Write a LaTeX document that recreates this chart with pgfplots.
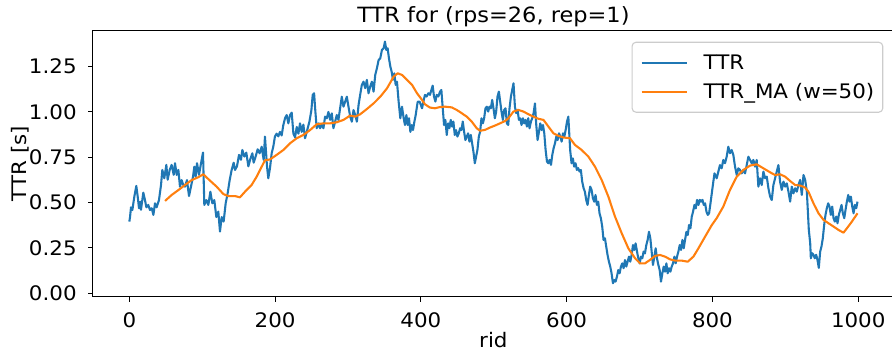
\documentclass[border=0pt]{standalone}
\usepackage{fontspec}
\setmainfont[FakeStretch=1.07]{DejaVu Sans}
\usepackage{pgfplots}
\pgfplotsset{compat=1.18}
\usepackage{pgfplotstable}
\definecolor{tabblue}{HTML}{1F77B4}
\definecolor{taborange}{HTML}{FF7F0E}

\pgfplotstableread{
x y
0 0.395
1 0.42
2.3 0.474
4.2 0.459
6.9 0.533
9.6 0.592
11.5 0.533
13.3 0.469
15.1 0.505
16 0.46
19.2 0.555
21.5 0.514
23.4 0.474
26 0.487
28.4 0.459
30.7 0.469
33 0.432
35.3 0.496
37.5 0.474
40.7 0.514
43.5 0.597
45.3 0.68
48 0.634
50.8 0.708
52.6 0.626
55.4 0.68
58.1 0.708
60.9 0.653
62.7 0.717
65 0.653
67.3 0.68
69.5 0.588
71.8 0.624
74.1 0.597
76.4 0.588
79.1 0.624
81.9 0.536
84.6 0.588
87.4 0.643
89.2 0.698
91 0.643
92.9 0.717
95.6 0.653
98.4 0.717
101.1 0.776
102.9 0.487
105.7 0.514
108.4 0.487
111.2 0.56
113.9 0.496
116.6 0.514
119.4 0.42
122.1 0.45
124.4 0.34
126.7 0.42
129.4 0.395
132.2 0.496
134.9 0.551
137.7 0.624
140.4 0.68
143.2 0.72
145 0.68
147.7 0.70
150.5 0.763
153.2 0.736
155.1 0.79
157.8 0.754
160.5 0.776
163.3 0.70
166 0.74
168.8 0.772
170.6 0.72
173.3 0.754
176.1 0.794
178.8 0.772
181.6 0.808
184.3 0.736
186.1 0.864
188.9 0.70
190.7 0.634
193 0.69
195.3 0.772
197.6 0.81
199.8 0.865
202.1 0.88
204.4 0.865
206.7 0.89
209 0.87
211.3 0.928
213.6 0.965
215.9 0.983
218.2 0.937
220.5 0.983
222.8 0.996
225.1 0.88
227.4 0.86
229.7 0.917
232 0.88
234.2 0.937
236.5 0.89
238.8 0.93
241.1 0.855
243.4 0.89
247.1 0.946
249.8 1.01
251.6 1.094
253.5 1.103
255.3 1.0
257.1 0.91
259.9 0.937
261.7 0.91
264 0.928
266.3 0.91
268.6 0.974
270.9 0.965
273.2 1.0
275.5 0.956
277.8 0.992
280 0.91
282.3 0.946
284.6 0.983
286.9 0.956
289.2 1.02
291.5 1.084
293.8 1.029
296.1 1.056
298.4 1.084
300.7 1.029
303 0.974
305.3 0.946
307.6 1.01
309.9 0.983
312.2 0.946
314.5 1.038
316.7 1.094
319 1.149
321.3 1.167
323.6 1.131
325.9 1.177
328.2 1.103
330.5 1.14
332.8 1.167
335.1 1.112
337.4 1.204
339.7 1.241
342 1.286
344.3 1.296
346.6 1.342
348.9 1.351
350.7 1.388
352.6 1.342
354.4 1.351
356.2 1.296
358.1 1.25
359.9 1.222
361.7 1.177
363.6 1.213
365.4 1.149
367.2 1.167
369.5 1.056
371.8 0.965
374.1 1.029
376.4 0.965
378.2 0.928
380.1 0.983
381.9 0.928
383.7 0.965
385.6 0.89
387.4 0.928
389.2 0.90
391.1 0.946
392.9 0.983
395.6 1.056
398.4 1.056
401.6 1.02
403.9 1.065
405.6 1.094
407.9 1.085
410.2 1.103
412.5 1.094
414.4 1.121
416.2 1.145
418 1.085
419.9 1.057
421.7 1.094
424 1.085
426.3 1.112
428.1 1.121
430 1.02
431.8 0.928
433.6 0.956
435.5 0.873
437.3 0.937
439.1 0.91
441 0.956
442.8 0.919
444.6 0.947
446.5 0.873
448.3 0.90
450.1 0.864
452 0.882
453.8 0.91
455.6 0.90
457.5 0.947
459.3 0.891
461.1 0.845
463 0.864
464.8 0.882
466.6 0.836
468.5 0.873
470.3 0.827
472.1 0.781
474 0.717
475.8 0.754
477.6 0.791
479.5 0.864
481.3 0.891
483.1 0.965
485 0.937
486.8 0.965
488.6 1.02
490.5 1.029
492.3 1.002
494.1 1.029
496 1.02
497.8 1.066
499.6 1.02
501.5 0.965
503.3 1.002
505.1 1.084
507 1.112
508.8 1.057
510.6 1.002
512.5 0.956
514.3 1.011
516.1 1.02
518 0.937
519.8 0.928
521.6 1.02
523.5 1.084
525.3 1.121
527.1 1.158
529 1.029
530.8 0.993
532.6 1.011
534.5 0.956
536.3 0.965
538.1 0.928
540 0.965
541.8 0.937
543.6 0.956
545.5 0.919
547.3 0.965
549.1 0.91
551 0.947
552.8 0.965
554.6 0.993
556.5 1.047
558.3 0.928
560.1 0.845
562 0.891
563.8 0.937
565.6 0.90
567.5 0.928
569.3 0.882
571.1 0.791
573 0.726
574.8 0.717
576.6 0.736
578.5 0.708
580.3 0.763
582.1 0.80
584 0.827
585.8 0.864
587.6 0.845
589.5 0.882
591.3 0.864
593.1 0.836
595 0.882
596.8 0.864
598.6 0.90
600.5 0.947
602.3 0.974
604.8 0.79
606.7 0.717
608.5 0.744
610.3 0.698
612.2 0.717
614 0.68
615.8 0.69
617.7 0.671
619.5 0.68
621.3 0.616
623.2 0.58
625 0.56
626.8 0.515
628.7 0.487
630.5 0.542
632.3 0.588
634.2 0.57
636 0.524
637.8 0.505
639.6 0.542
641.5 0.487
643.3 0.505
645.1 0.441
647 0.413
648.8 0.367
650.6 0.294
652.5 0.303
654.3 0.257
656.1 0.211
658 0.174
659.8 0.147
661.6 0.11
663.5 0.055
665.3 0.073
667.1 0.064
669 0.092
670.8 0.128
672.6 0.11
674.5 0.147
676.3 0.165
678.1 0.138
680 0.183
681.8 0.147
683.6 0.174
685.5 0.202
687.3 0.174
689.1 0.211
691 0.266
692.8 0.239
694.6 0.275
696.5 0.23
698.3 0.193
700.1 0.165
702 0.202
703.8 0.193
705.6 0.23
707.4 0.22
709.3 0.266
711.1 0.294
712.9 0.339
714.8 0.303
716.6 0.23
718.4 0.156
720.3 0.202
722.1 0.248
723.9 0.193
725.8 0.156
727.6 0.128
729.4 0.064
731.3 0.11
733.1 0.147
734.9 0.119
736.8 0.165
738.6 0.11
740.4 0.138
742.3 0.119
744.1 0.147
745.9 0.165
747.8 0.202
749.6 0.165
751.4 0.202
753.3 0.23
755.1 0.266
756.9 0.239
758.8 0.294
760.6 0.248
762.4 0.294
764.3 0.339
766.1 0.321
767.9 0.376
769.8 0.358
771.6 0.422
773.4 0.45
775.3 0.487
777.1 0.468
778.9 0.515
780.8 0.487
782.6 0.515
784.4 0.505
786.3 0.515
788.1 0.487
789.9 0.496
791.8 0.45
793.6 0.432
795.4 0.441
797.3 0.496
799.1 0.551
800.9 0.606
802.8 0.661
805.8 0.634
808.1 0.671
810.3 0.707
812.6 0.689
814.9 0.735
817.2 0.717
819.5 0.753
821.8 0.808
824.1 0.772
826.4 0.79
828.7 0.762
831 0.698
833.3 0.652
835.5 0.689
837.8 0.68
840.1 0.661
842.4 0.68
844.7 0.661
847 0.707
849.3 0.753
851.6 0.735
853.9 0.717
856.2 0.735
858.5 0.698
860.7 0.735
863 0.588
865.3 0.634
867.6 0.597
869.9 0.671
872.2 0.634
874.5 0.643
876.8 0.579
879.1 0.533
881.4 0.514
883.6 0.597
885.9 0.634
888.2 0.671
890.5 0.707
892.8 0.615
895.1 0.57
897.4 0.616
899.7 0.588
902 0.606
904.3 0.56
906.6 0.505
908.8 0.588
911.1 0.551
913.4 0.579
915.7 0.56
918 0.597
920.3 0.625
922.6 0.542
924.9 0.652
927.2 0.625
929.5 0.56
930.8 0.46
932.2 0.35
934.1 0.276
935 0.193
936.8 0.221
938.6 0.212
940.4 0.193
942.3 0.212
944.1 0.184
945.9 0.14
947.8 0.23
949.6 0.258
951.4 0.303
953.3 0.377
955.1 0.432
956.9 0.469
958.8 0.496
960.6 0.478
962.4 0.432
964.3 0.478
966.1 0.414
967.9 0.395
969.8 0.423
971.6 0.386
973.4 0.432
975.3 0.46
977.1 0.487
978.9 0.441
980.8 0.414
982.6 0.46
984.4 0.505
986.3 0.542
988.1 0.505
989.9 0.533
991.8 0.478
993.6 0.441
995.4 0.487
997.3 0.469
999 0.505
}\ttr

\pgfplotstableread{
x y
49 0.509
58.1 0.542
67.3 0.569
76.4 0.597
85.5 0.624
94.7 0.64
101.5 0.656
110.7 0.621
119.8 0.588
129 0.547
135.8 0.536
145 0.536
151.8 0.529
158.7 0.56
167.8 0.597
174.7 0.643
181.6 0.698
186.1 0.733
193 0.738
202.1 0.763
211.3 0.79
220.5 0.827
229.7 0.855
238.8 0.873
248 0.90
257.1 0.932
266.3 0.937
275.5 0.937
284.6 0.943
293.8 0.956
303 0.98
309.9 0.974
316.7 0.987
325.9 1.016
335.1 1.047
344.3 1.084
353.5 1.13
362.7 1.195
368.2 1.213
374.1 1.204
381 1.177
387.9 1.149
394.7 1.103
401.6 1.066
405.6 1.042
412.5 1.024
419.4 1.02
426.3 1.027
433.2 1.029
442.3 1.025
449.2 1.011
456 0.993
462.9 0.974
469.7 0.947
476.6 0.91
481.2 0.896
488 0.901
494.9 0.914
501.8 0.925
508.6 0.937
515.5 0.95
520.1 0.965
527 1.002
533.8 1.011
540.7 1.002
547.6 0.987
554.4 0.974
561.3 0.962
568.2 0.956
575 0.919
581.9 0.882
588.8 0.868
595.6 0.859
604.5 0.855
611.4 0.818
620.6 0.79
629.7 0.754
638.9 0.698
648 0.625
657.2 0.533
666.3 0.423
675.5 0.331
684.6 0.248
693.8 0.193
700.7 0.165
707.5 0.165
714.4 0.184
721.3 0.206
728.1 0.211
735 0.202
741.8 0.187
748.7 0.18
757.9 0.18
766.1 0.174
773.9 0.202
780.8 0.248
789.9 0.312
799.1 0.376
805.8 0.414
814.9 0.478
824.1 0.57
833.3 0.643
842.4 0.68
851.6 0.704
860.7 0.711
869.9 0.689
879.1 0.667
885.9 0.652
892.8 0.656
899.7 0.643
906.6 0.619
913.4 0.597
920.3 0.594
927.2 0.583
931.7 0.56
938.6 0.496
945.5 0.441
952.3 0.405
959.2 0.386
966.1 0.368
973 0.349
979.8 0.334
984.4 0.358
991.3 0.395
999 0.441
}\ttrma

\begin{document}
\begin{tikzpicture}
\begin{axis}[
  scale only axis,
  width=400.5pt, height=133pt,
  xmin=-49.95, xmax=1048.95,
  ymin=-0.019, ymax=1.448,
  xtick={0,200,400,600,800,1000},
  ytick={0,0.25,0.5,0.75,1,1.25},
  tick pos=left,
  tick align=outside,
  major tick length=2.43pt,
  tick style={black, line width=0.55pt},
  axis line style={black, line width=0.55pt},
  /pgf/number format/assume math mode=true,
  font=\fontsize{10}{12}\selectfont,
  x tick label style={/pgf/number format/1000 sep={}, anchor=north, inner sep=0pt, yshift=-5.3pt},
  y tick label style={/pgf/number format/.cd, fixed, fixed zerofill, precision=2, /tikz/.cd, anchor=east, inner sep=0pt, xshift=-5.5pt},
  title={TTR for (rps=26, rep=1)},
  title style={font=\fontsize{10.5}{12.5}\selectfont, at={(axis description cs:0.5,1)}, anchor=base, yshift=-1.85pt, inner sep=0pt},
  xlabel={rid},
  xlabel style={at={(axis description cs:0.5,0)}, anchor=base, yshift=-25.65pt, inner sep=0pt},
  ylabel={TTR [s]},
  ylabel style={at={([xshift=-33.2pt]axis description cs:0,0.5)}, rotate=0, anchor=base, inner sep=0pt},
  legend cell align=left,
  legend style={at={(axis description cs:1,1)}, anchor=north east, xshift=-5.3pt, yshift=-5.5pt,
    draw=black!20, line width=0.55pt, rounded corners=2pt, fill=white, fill opacity=0.8, text opacity=1,
    inner xsep=4.25pt, inner ysep=2.85pt, row sep=0pt,
    font=\fontsize{10}{12}\selectfont,
    nodes={inner sep=0pt, text height=10.7pt, text depth=3.95pt}},
  legend image code/.code={\draw[#1] (0pt,0pt) -- (22.5pt,0pt); \path (30.5pt,0pt);},
]
\addplot[tabblue, line width=1.04pt, line join=round] table[x=x, y=y] {\ttr};
\addlegendentry{TTR}
\addplot[taborange, line width=1.04pt, line join=round] table[x=x, y=y] {\ttrma};
\addlegendentry{TTR\_MA (w=50)}
\end{axis}
\pgfresetboundingbox
\path[use as bounding box] (-46.45pt,-29.65pt) rectangle (399.55pt,148.35pt);
\end{tikzpicture}
\end{document}
